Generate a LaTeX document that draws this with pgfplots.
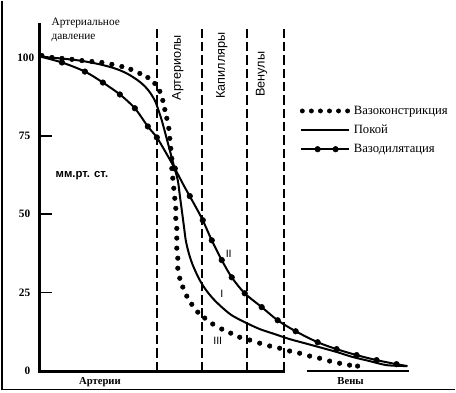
\documentclass[border=0pt]{standalone}
\usepackage{fontspec}
\setmainfont{Liberation Serif}
\setsansfont{Liberation Sans}
\usepackage{pgfplots}
\pgfplotsset{compat=1.18}
\begin{document}
\begin{tikzpicture}
\begin{axis}[
  scale only axis, width=342pt, height=294pt,
  xmin=-40, xmax=416, ymin=-6.69, ymax=118.15,
  hide axis, clip=false,
  legend style={at={(axis cs:260,85.3)}, anchor=north west, draw=none, fill=none,
    font=\fontsize{9.5}{11}\selectfont, row sep=3.5pt, inner sep=0pt,
    nodes={inner sep=1.5pt}},
  legend cell align=left,
]
\path (axis cs:-40,-6.69) rectangle (axis cs:416,118.15);
% frame
\addplot[black, line width=0.8pt, forget plot] coordinates {(-38,118.15) (-38,-5.73) (416,-5.73)};
% axes
\addplot[black, line width=2.2pt, forget plot] coordinates {(0,111) (0,0) (245,0)};
\addplot[black, line width=2pt, forget plot] coordinates {(267,0) (369,0)};
% y ticks
\addplot[black, line width=1.2pt, forget plot] coordinates {(0,25) (12,25)};
\addplot[black, line width=1.2pt, forget plot] coordinates {(0,50) (12,50)};
\addplot[black, line width=1.2pt, forget plot] coordinates {(0,75) (12,75)};
\addplot[black, line width=1.2pt, forget plot] coordinates {(0,100) (12,100)};
% dashed region lines
\addplot[black, line width=1.3pt, dash pattern=on 7pt off 3pt, forget plot] coordinates {(117,0) (117,110.2)};
\addplot[black, line width=1.3pt, dash pattern=on 7pt off 3pt, forget plot] coordinates {(162,0) (162,110.2)};
\addplot[black, line width=1.3pt, dash pattern=on 7pt off 3pt, forget plot] coordinates {(207,0) (207,110.2)};
\addplot[black, line width=1.3pt, dash pattern=on 7pt off 3pt, forget plot] coordinates {(244,0) (244,110.2)};
% vasoconstriction (dots)
\addplot[only marks, mark=*, mark size=1.7pt, black, forget plot] coordinates {
(2,100.6) (12,100.0) (22,99.7) (32,99.4) (42,99.0) (52,98.7) (62,98.4) (72,97.8)
(82,97.1) (91,96.2) (100,94.9) (108,93.6) (115,91.7) (120,89.2) (123,86.3) (125,83.4)
(127,80.6) (129,77.4) (130,74.2) (131,71.0) (132,67.8) (132,64.6) (133,61.5) (134,58.3)
(135,55.1) (136,51.9) (136,48.7) (137,45.5) (137,42.4) (137,39.2) (138,36.0) (138,32.8)
(140,29.6) (143,26.8) (147,23.9) (152,21.3) (158,18.8) (165,16.9) (173,15.0) (182,13.4)
(191,12.1) (200,10.8) (210,9.9) (220,8.9) (230,8.0) (240,7.3) (250,6.4) (260,5.7)
(270,4.8) (280,4.1) (290,3.2) (300,2.5) (310,1.9) (318,1.6)
};
% rest (solid)
\addplot[black, line width=1.5pt, smooth, tension=0.5, forget plot] coordinates {
(0,100.3) (20,99.7) (40,99.0) (60,97.8) (75,96.5) (87,94.9) (98,92.7) (105,90.8)
(110,88.9) (115,86.3) (118,83.8) (122,79.9) (126,75.2) (130,70.4) (134,65.6) (138,60.8)
(140,56.1) (142,51.3) (144,46.5) (146,41.7) (149,37.6) (153,33.8) (159,29.6) (165,26.4)
(173,23.2) (182,20.4) (192,17.8) (205,15.6) (220,13.4) (235,11.8) (250,10.2) (265,8.9)
(280,7.6) (297,6.1) (313,4.5) (330,3.2) (347,1.9) (367,1.6)
};
% vasodilatation line
\addplot[black, line width=1.5pt, smooth, tension=0.5, forget plot] coordinates {
(0,100.3) (22,98.4) (45,95.5) (63,92.0) (80,88.2) (95,83.8) (108,78.0) (117,74.5)
(126,69.7) (135,64.6) (145,58.6) (155,52.9) (163,48.1) (172,41.7) (182,35.4) (192,29.9)
(205,24.8) (222,20.4) (238,16.2) (256,12.7) (278,9.2) (297,7.0) (317,5.1) (337,3.5)
(357,2.2) (368,1.6)
};
\addplot[only marks, mark=*, mark size=2.1pt, black, forget plot] coordinates {
(22,98.4) (45,95.5) (63,92.0) (80,88.2) (95,83.8) (108,78.0) (117,74.5) (135,64.6)
(150,55.8) (163,48.1) (172,41.7) (182,35.4) (192,29.9) (205,24.8) (222,20.4) (238,16.2)
(256,12.7) (278,9.2) (297,7.0) (317,5.1) (337,3.5) (357,2.2)
};
% legend
\addlegendimage{legend image code/.code={\fill[black] (0pt,0) circle (1.6pt); \fill[black] (6.8pt,0) circle (1.6pt); \fill[black] (13.6pt,0) circle (1.6pt); \fill[black] (20.4pt,0) circle (1.6pt); \fill[black] (27.2pt,0) circle (1.6pt); \fill[black] (34pt,0) circle (1.6pt); \path (37pt,0);}}
\addlegendentry{Вазоконстрикция}
\addlegendimage{legend image code/.code={\draw[black, line width=1.5pt] (-1pt,0) -- (35pt,0); \path (37pt,0);}}
\addlegendentry{Покой}
\addlegendimage{legend image code/.code={\draw[black, line width=1.5pt] (-1pt,0) -- (35pt,0); \fill[black] (11.5pt,0) circle (2.1pt); \fill[black] (25pt,0) circle (2.1pt); \path (37pt,0);}}
\addlegendentry{Вазодилятация}
% texts
\node[anchor=west, font=\fontsize{8.5}{10}\selectfont] at (axis cs:7,111.1) {Артериальное};
\node[anchor=west, font=\fontsize{8.5}{10}\selectfont] at (axis cs:7,106.2) {давление};
\node[anchor=west, font=\sffamily\bfseries\fontsize{8.5}{10}\selectfont] at (axis cs:11,62.2) {мм.рт. ст.};
\node[anchor=east, font=\bfseries\fontsize{8.5}{10}\selectfont] at (axis cs:-5,0) {0};
\node[anchor=east, font=\bfseries\fontsize{8.5}{10}\selectfont] at (axis cs:-5,25) {25};
\node[anchor=east, font=\bfseries\fontsize{8.5}{10}\selectfont] at (axis cs:-5,50) {50};
\node[anchor=east, font=\bfseries\fontsize{8.5}{10}\selectfont] at (axis cs:-5,75) {75};
\node[anchor=east, font=\bfseries\fontsize{8.5}{10}\selectfont] at (axis cs:-1,100) {100};
\node[font=\bfseries\fontsize{8}{10}\selectfont] at (axis cs:60,-3.5) {Артерии};
\node[font=\bfseries\fontsize{8}{10}\selectfont] at (axis cs:311,-3.2) {Вены};
\node[rotate=90, anchor=west, font=\sffamily\fontsize{9.5}{11}\selectfont] at (axis cs:138,84.8) {Артериолы};
\node[rotate=90, anchor=west, font=\sffamily\fontsize{9.5}{11}\selectfont] at (axis cs:182,85.4) {Капилляры};
\node[rotate=90, anchor=west, font=\sffamily\fontsize{9.5}{11}\selectfont] at (axis cs:222,86.0) {Венулы};
\node[font=\sffamily\fontsize{8}{10}\selectfont] at (axis cs:189,37.3) {II};
\node[font=\sffamily\fontsize{8}{10}\selectfont] at (axis cs:182,24.5) {I};
\node[font=\sffamily\fontsize{8}{10}\selectfont] at (axis cs:178,9.6) {III};
\end{axis}
\end{tikzpicture}
\end{document}
